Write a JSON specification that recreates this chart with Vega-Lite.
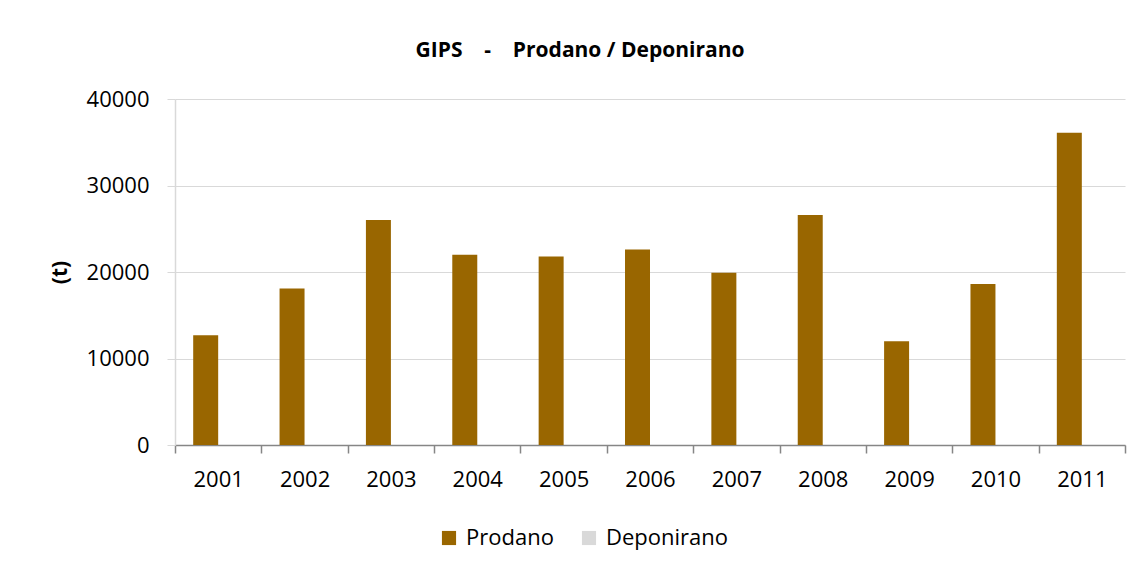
{
  "$schema": "https://vega.github.io/schema/vega-lite/v6.json",
  "width": 950,
  "height": 346,
  "autosize": {"type": "none"},
  "padding": {"left": 175, "top": 99, "right": 16, "bottom": 122},
  "background": "white",
  "config": {
    "font": "Open Sans",
    "view": {"stroke": null}
  },
  "title": {
    "text": "GIPS\u00a0\u00a0\u00a0\u00a0-\u00a0\u00a0\u00a0\u00a0Prodano / Deponirano",
    "fontSize": 21,
    "fontWeight": "bold",
    "color": "#000000",
    "anchor": "middle",
    "dx": -70,
    "offset": 27
  },
  "data": {
    "values": [
      {"year": "2001", "series": "Prodano", "value": 12700},
      {"year": "2002", "series": "Prodano", "value": 18100},
      {"year": "2003", "series": "Prodano", "value": 26000},
      {"year": "2004", "series": "Prodano", "value": 22000},
      {"year": "2005", "series": "Prodano", "value": 21800},
      {"year": "2006", "series": "Prodano", "value": 22600},
      {"year": "2007", "series": "Prodano", "value": 19900},
      {"year": "2008", "series": "Prodano", "value": 26600},
      {"year": "2009", "series": "Prodano", "value": 12000},
      {"year": "2010", "series": "Prodano", "value": 18600},
      {"year": "2011", "series": "Prodano", "value": 36100},
      {"year": "2001", "series": "Deponirano", "value": 0},
      {"year": "2002", "series": "Deponirano", "value": 0},
      {"year": "2003", "series": "Deponirano", "value": 0},
      {"year": "2004", "series": "Deponirano", "value": 0},
      {"year": "2005", "series": "Deponirano", "value": 0},
      {"year": "2006", "series": "Deponirano", "value": 0},
      {"year": "2007", "series": "Deponirano", "value": 0},
      {"year": "2008", "series": "Deponirano", "value": 0},
      {"year": "2009", "series": "Deponirano", "value": 0},
      {"year": "2010", "series": "Deponirano", "value": 0},
      {"year": "2011", "series": "Deponirano", "value": 0}
    ]
  },
  "mark": {"type": "bar"},
  "encoding": {
    "x": {
      "field": "year",
      "type": "nominal",
      "scale": {"paddingInner": 0, "paddingOuter": 0},
      "axis": {
        "title": null,
        "labelAngle": 0,
        "labelFontSize": 22,
        "labelColor": "#000000",
        "labelPadding": 16,
        "tickBand": "extent",
        "tickSize": 8,
        "tickColor": "#868686",
        "tickWidth": 1.5,
        "domainColor": "#868686",
        "domainWidth": 1.5,
        "grid": false
      }
    },
    "xOffset": {
      "field": "series",
      "type": "nominal",
      "sort": ["Prodano", "Deponirano"],
      "scale": {"paddingInner": 0, "paddingOuter": 0.728}
    },
    "y": {
      "field": "value",
      "type": "quantitative",
      "scale": {"domain": [0, 40000], "nice": false},
      "axis": {
        "title": "(t)",
        "titleFontSize": 21,
        "titleFontWeight": "bold",
        "titleColor": "#000000",
        "titlePadding": 16,
        "values": [0, 10000, 20000, 30000, 40000],
        "format": "d",
        "labelFontSize": 22,
        "labelColor": "#000000",
        "labelPadding": 18,
        "tickSize": 8,
        "tickColor": "#d9d9d9",
        "domainColor": "#d9d9d9",
        "domainWidth": 1.5,
        "gridColor": "#d9d9d9",
        "gridWidth": 1.2
      }
    },
    "color": {
      "field": "series",
      "type": "nominal",
      "sort": ["Prodano", "Deponirano"],
      "scale": {"domain": ["Prodano", "Deponirano"], "range": ["#996600", "#d9d9d9"]},
      "legend": {
        "title": null,
        "orient": "none",
        "direction": "horizontal",
        "legendX": 263,
        "legendY": 428,
        "symbolType": "square",
        "symbolSize": 200,
        "symbolStrokeWidth": 0,
        "labelFontSize": 22,
        "labelColor": "#000000",
        "labelOffset": 6,
        "columnPadding": 24
      }
    }
  }
}
